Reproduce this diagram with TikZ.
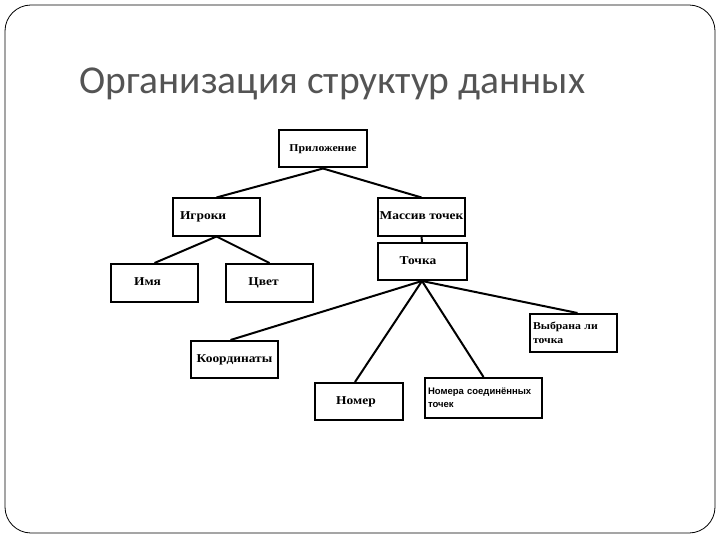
\documentclass[tikz,border=0pt]{standalone}
\usepackage{fontspec}
\setmainfont[FakeStretch=1.12]{Liberation Serif}
\newfontfamily\titlefont{Carlito}
\newfontfamily\labelsans{Liberation Sans}
\definecolor{titlegray}{HTML}{545454}
\tikzset{
  box/.style={draw, line width=2pt, minimum width=87pt, minimum height=37pt,
    inner sep=3pt, text height=8pt, text depth=2.5pt,
    font=\fontsize{12}{13}\selectfont\bfseries},
  link/.style={line width=2pt}
}
\begin{document}
\begin{tikzpicture}[x=1pt, y=-1pt]

    % Slide frame
    \useasboundingbox (0,0) rectangle (720,540);
    \draw[line width=0.8pt, rounded corners=26pt] (5,5) rectangle (715,533);

    % Title
    \node[anchor=base west, inner sep=0pt, font=\titlefont\fontsize{39.5}{44}\selectfont, text=titlegray]
        (title) at (79,94) {Организация структур данных};

    % Boxes
    \node[box, minimum width=88pt, font=\fontsize{10.5}{12}\selectfont\bfseries] (app) at (323,149) {Приложение};
    \node[box, text width=81pt, align=left] (players) at (216.5,217) {\hspace*{4pt}Игроки};
    \node[box, inner sep=1pt] (array) at (421.5,217) {Массив точек};
    \node[box, minimum width=89pt] (point) at (422,261.5) {\hspace*{-8pt}Точка};
    \node[box, minimum height=38pt] (name) at (154.5,283) {\hspace*{-14pt}Имя};
    \node[box, minimum height=38pt] (color) at (269.5,283) {\hspace*{-12pt}Цвет};
    \node[box] (coords) at (234.5,359.5) {Координаты};
    \node[box, minimum width=88pt] (number) at (359,401.5) {\hspace*{-6pt}Номер};
    \node[box, minimum width=117pt, minimum height=40pt, text width=111pt, align=left,
        text height=, text depth=,
        font=\labelsans\fontsize{9.5}{13}\selectfont\bfseries] (linked) at (483.5,398) {Номера соединённых\\точек};
    \node[box, minimum height=38pt, text width=81pt, align=left,
        text height=, text depth=,
        font=\fontsize{10.5}{14}\selectfont\bfseries] (chosen) at (573.5,333) {Выбрана ли\\точка};

    % Connectors
    \draw[link] (app.south) -- (players.north);
    \draw[link] (app.south) -- (array.north);
    \draw[link] (players.south) -- (name.north);
    \draw[link] (players.south) -- (color.north);
    \draw[link] (array.south) -- (point.north);
    \draw[link] (point.south) -- ([xshift=-4pt]coords.north);
    \draw[link] (point.south) -- ([xshift=-4pt]number.north);
    \draw[link] (point.south) -- (linked.north);
    \draw[link] (point.south) -- ([xshift=4pt]chosen.north);

\end{tikzpicture}
\end{document}
